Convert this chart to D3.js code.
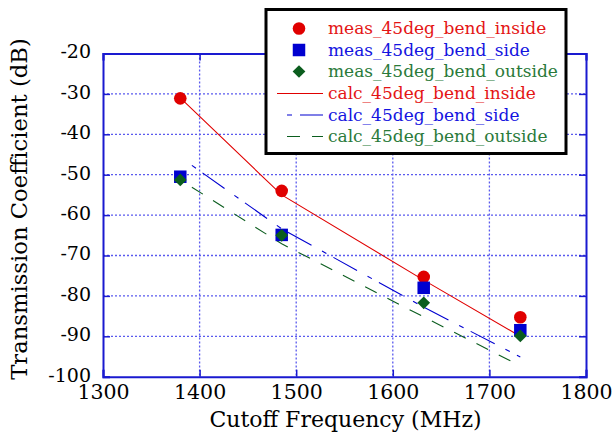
<!DOCTYPE html>
<html>
<head>
<meta charset="utf-8">
<script src="https://cdn.jsdelivr.net/npm/d3@7"></script>
<style>
  html, body { margin: 0; padding: 0; background: #fff; }
  svg { display: block; font-family: "DejaVu Serif", serif; }
</style>
</head>
<body>
<svg id="chart" width="615" height="435"></svg>
<script>
// Measured transmission at each waveguide cutoff frequency
const measFreq = [1380, 1485, 1632, 1732];
const measInside = [-31.1, -54.0, -75.3, -85.3];
const measSide = [-50.5, -64.9, -78.0, -88.5];
const measOutside = [-51.3, -65.0, -81.7, -89.9];

// Calculated curves
const calcInsideFreq = [1380, 1485, 1632, 1727];
const calcInside = [-31.0, -55.0, -76.1, -89.3];
const calcSideFreq = [1392, 1485, 1632, 1732];
const calcSide = [-47.7, -63.4, -82.8, -95.1];
const calcOutsideFreq = [1392, 1485, 1632, 1732];
const calcOutside = [-53.1, -67.1, -85.2, -97.3];

const xTicks = [1300, 1400, 1500, 1600, 1700, 1800];
const yTicks = [-100, -90, -80, -70, -60, -50, -40, -30, -20];

const seriesNames = [
  "meas_45deg_bend_inside", "meas_45deg_bend_side", "meas_45deg_bend_outside",
  "calc_45deg_bend_inside", "calc_45deg_bend_side", "calc_45deg_bend_outside"
];

const RED = "#e00000", BLUE = "#0000d0", GREEN = "#0b5d1e";
const RED_T = "#e41414", BLUE_T = "#1414e0", GREEN_T = "#2a7a3a";
const FRAME = "#1a1ad0", GRID = "#5a5aee";

const svg = d3.select("#chart");
const plot = { left: 103, right: 586, top: 53.5, bottom: 376.7 };
const x = d3.scaleLinear().domain([1300, 1800]).range([plot.left, plot.right]);
const y = d3.scaleLinear().domain([-100, -20]).range([plot.bottom, plot.top]);

// dotted grid
const grid = svg.append("g");
grid.selectAll("line.v").data(xTicks.slice(1, -1)).join("line")
  .attr("x1", d => x(d)).attr("x2", d => x(d))
  .attr("y1", plot.top).attr("y2", plot.bottom)
  .attr("stroke", GRID).attr("stroke-width", 1.3).attr("stroke-dasharray", "2,2");
grid.selectAll("line.h").data(yTicks.slice(1, -1)).join("line")
  .attr("x1", plot.left).attr("x2", plot.right)
  .attr("y1", d => y(d)).attr("y2", d => y(d))
  .attr("stroke", GRID).attr("stroke-width", 1.3).attr("stroke-dasharray", "2,2");

// axes with inward ticks, labels drawn by the axis generators
const tickLen = 7;
const gx = svg.append("g").attr("transform", `translate(0,${plot.bottom})`)
  .call(d3.axisBottom(x).tickValues(xTicks).tickSize(-tickLen).tickPadding(8).tickFormat(d3.format("d")));
const gy = svg.append("g").attr("transform", `translate(${plot.left},0)`)
  .call(d3.axisLeft(y).tickValues(yTicks).tickSize(-tickLen).tickPadding(12).tickFormat(d => d < 0 ? "-" + Math.abs(d) : d));
svg.append("g").attr("transform", `translate(0,${plot.top})`)
  .call(d3.axisTop(x).tickValues(xTicks).tickSize(-tickLen).tickFormat(""));
svg.append("g").attr("transform", `translate(${plot.right},0)`)
  .call(d3.axisRight(y).tickValues(yTicks).tickSize(-tickLen).tickFormat(""));

svg.selectAll(".domain").attr("stroke", FRAME).attr("stroke-width", 2);
svg.selectAll(".tick line").attr("stroke", FRAME).attr("stroke-width", 1.5);
svg.selectAll(".tick text").attr("fill", "#000").style("font-family", "'DejaVu Serif', serif");
gx.selectAll(".tick text").style("font-size", "20.5px");
gy.selectAll(".tick text").style("font-size", "19px").attr("dy", "0.23em");

// axis titles
svg.append("text").attr("x", (plot.left + plot.right) / 2 + 1).attr("y", 427)
  .attr("text-anchor", "middle").style("font-size", "22px").text("Cutoff Frequency (MHz)");
svg.append("text").attr("transform", "translate(27,209) rotate(-90)")
  .attr("text-anchor", "middle").style("font-size", "22.7px").text("Transmission Coefficient (dB)");

// calculated lines
const lineGen = d3.line().x(d => x(d[0])).y(d => y(d[1]));
const calc = [
  { f: calcInsideFreq, v: calcInside, color: RED, dash: null, w: 1.1 },
  { f: calcSideFreq, v: calcSide, color: BLUE, dash: "5,8,27,12", w: 1.1 },
  { f: calcOutsideFreq, v: calcOutside, color: GREEN, dash: "13,12", w: 1.1 }
];
calc.forEach(c => {
  svg.append("path").datum(d3.zip(c.f, c.v)).attr("d", lineGen)
    .attr("fill", "none").attr("stroke", c.color).attr("stroke-width", c.w)
    .attr("stroke-dasharray", c.dash);
});

// measured markers
const sym = {
  circle: d3.symbol().type(d3.symbolCircle).size(Math.PI * 6.3 * 6.3),
  square: d3.symbol().type(d3.symbolSquare).size(12.5 * 12.5),
  diamond: d3.symbol().type(d3.symbolSquare).size(9 * 9)
};
function drawMarkers(vals, kind, color) {
  svg.append("g").selectAll("path").data(d3.zip(measFreq, vals)).join("path")
    .attr("transform", d => `translate(${x(d[0])},${y(d[1])})` + (kind === "diamond" ? " rotate(45)" : ""))
    .attr("d", sym[kind]()).attr("fill", color);
}
drawMarkers(measInside, "circle", RED);
drawMarkers(measSide, "square", BLUE);
drawMarkers(measOutside, "diamond", GREEN);

// legend
const lg = svg.append("g");
lg.append("rect").attr("x", 266).attr("y", 9.5).attr("width", 300).attr("height", 144)
  .attr("fill", "#fff").attr("stroke", "#000").attr("stroke-width", 3);
const rowY = [28.5, 50, 71.5, 93.5, 115, 136.5];
const legendItems = [
  { kind: "circle", color: RED, tc: RED_T },
  { kind: "square", color: BLUE, tc: BLUE_T },
  { kind: "diamond", color: GREEN, tc: GREEN_T },
  { line: true, color: RED, tc: RED_T, dash: null, off: 0 },
  { line: true, color: BLUE, tc: BLUE_T, dash: "5,8,27,12", off: 42 },
  { line: true, color: GREEN, tc: GREEN_T, dash: "13,12", off: 15 }
];
legendItems.forEach((it, i) => {
  const yy = rowY[i];
  if (it.line) {
    lg.append("line").attr("x1", 277).attr("x2", 323).attr("y1", yy).attr("y2", yy)
      .attr("stroke", it.color).attr("stroke-width", 1.1)
      .attr("stroke-dasharray", it.dash).attr("stroke-dashoffset", it.off);
  } else {
    lg.append("path").attr("transform", `translate(299,${yy})` + (it.kind === "diamond" ? " rotate(45)" : ""))
      .attr("d", sym[it.kind]()).attr("fill", it.color);
  }
  lg.append("text").attr("x", 328).attr("y", yy).attr("dy", "0.33em")
    .attr("fill", it.tc).style("font-size", "17px").text(seriesNames[i]);
});
</script>
</body>
</html>
